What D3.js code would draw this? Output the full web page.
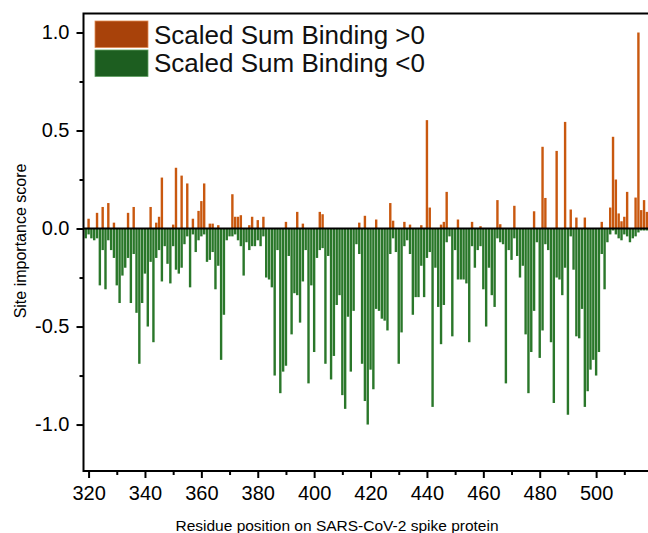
<!DOCTYPE html>
<html>
<head>
<meta charset="utf-8">
<script src="https://cdn.jsdelivr.net/npm/d3@7"></script>
<style>
  body { margin: 0; background: #fff; }
  svg { display: block; font-family: "Liberation Sans", Arial, sans-serif; }
</style>
</head>
<body>
<div id="chart"></div>
<script>
// DATA
// first residue of the negative series (one value per residue after that)
const firstResidue = 319

const negValues = [
  -0.05, -0.03, -0.05, -0.06, -0.05, -0.29, -0.11, -0.31, -0.06, -0.11,
  -0.15, -0.29, -0.38, -0.24, -0.20, -0.15, -0.38, -0.13, -0.43, -0.69,
  -0.38, -0.23, -0.50, -0.17, -0.58, -0.15, -0.11, -0.27, -0.09, -0.18,
  -0.28, -0.09, -0.21, -0.23, -0.20, -0.08, -0.04, -0.30, -0.03, -0.12,
  -0.06, -0.04, -0.03, -0.17, -0.16, -0.12, -0.31, -0.19, -0.67, -0.44,
  -0.06, -0.04, -0.04, -0.03, -0.06, -0.09, -0.24, -0.07, -0.11, -0.09,
  -0.09, -0.06, -0.09, -0.04, -0.25, -0.26, -0.30, -0.75, -0.11, -0.84,
  -0.73, -0.70, -0.14, -0.54, -0.33, -0.34, -0.48, -0.27, -0.11, -0.79,
  -0.29, -0.63, -0.15, -0.11, -0.10, -0.69, -0.14, -0.77, -0.65, -0.39,
  -0.34, -0.85, -0.92, -0.45, -0.73, -0.42, -0.08, -0.13, -0.69, -0.88,
  -1.00, -0.72, -0.82, -0.41, -0.42, -0.46, -0.47, -0.52, -0.13, -0.05,
  -0.12, -0.69, -0.53, -0.09, -0.06, -0.13, -0.44, -0.35, -0.35, -0.19,
  -0.35, -0.15, -0.12, -0.91, -0.20, -0.40, -0.59, -0.39, -0.07, -0.04,
  -0.55, -0.11, -0.26, -0.26, -0.26, -0.28, -0.58, -0.09, -0.20, -0.11,
  -0.09, -0.31, -0.50, -0.20, -0.34, -0.40, -0.05, -0.07, -0.08, -0.79,
  -0.11, -0.16, -0.05, -0.14, -0.25, -0.19, -0.54, -0.84, -0.63, -0.42,
  -0.07, -0.66, -0.52, -0.08, -0.11, -0.58, -0.89, -0.25, -0.26, -0.34,
  -0.20, -0.95, -0.04, -0.21, -0.55, -0.56, -0.41, -0.91, -0.83, -0.72,
  -0.67, -0.75, -0.63, -0.13, -0.31, -0.07, -0.03, -0.01, -0.03, -0.05,
  -0.06, -0.03, -0.04, -0.07, -0.05, -0.04, -0.02, -0.01, -0.01, -0.01
]

// positive scores only exist at some residues
const posResidues = [
  320, 323, 325, 327, 329, 334, 336, 342, 344, 345, 346, 350, 351, 353, 355,
  357, 359, 360, 361, 363, 364, 366, 371, 372, 373, 374, 377, 378, 380, 382,
  390, 394, 396, 402, 403, 416, 418, 422, 427, 428, 432, 434, 438, 440, 441,
  445, 446, 447, 451, 456, 459, 465, 466, 471, 478, 481, 482, 486, 489, 491,
  493, 496, 502, 505, 506, 507, 508, 509, 510, 511, 514, 515, 516, 517, 518
]
const posValues = [
  0.05, 0.08, 0.11, 0.13, 0.03, 0.08, 0.11, 0.11, 0.03, 0.06, 0.26, 0.02, 0.31, 0.27, 0.23,
  0.05, 0.09, 0.14, 0.23, 0.025, 0.025, 0.017, 0.175, 0.06, 0.06, 0.068, 0.017, 0.06, 0.043, 0.06,
  0.034, 0.085, 0.025, 0.085, 0.073, 0.03, 0.065, 0.046, 0.13, 0.04, 0.034, 0.02, 0.017, 0.553, 0.107,
  0.02, 0.034, 0.187, 0.046, 0.034, 0.012, 0.145, 0.022, 0.116, 0.088, 0.417, 0.156, 0.396, 0.544, 0.097,
  0.056, 0.056, 0.034, 0.107, 0.468, 0.25, 0.077, 0.037, 0.06, 0.187, 0.158, 1.0, 0.094, 0.145, 0.085
]

const xMajorTicks = [320, 340, 360, 380, 400, 420, 440, 460, 480, 500]
const xMinorTicks = [330, 350, 370, 390, 410, 430, 450, 470, 490, 510]
const yMajorTicks = [-1.0, -0.5, 0.0, 0.5, 1.0]
const yMinorTicks = [-0.75, -0.25, 0.25, 0.75]

const legendLabels = ["Scaled Sum Binding >0", "Scaled Sum Binding <0"]

const width = 648
const height = 533
const orange = "#c9580f"
const green = "#2a772a"

const negData = negValues.map((v, i) => ({res: firstResidue + i, v: v}))
const posData = posResidues.map((r, i) => ({res: r, v: posValues[i]}))

// SCALES
const xScale = d3.scaleLinear()
  .domain([318.2, 518.4])
  .range([83.5, 648])

const yScale = d3.scaleLinear()
  .domain([-1.237, 1.097])
  .range([471, 13.5])

const barW = 2.4

const svg = d3.select("#chart")
  .append("svg")
  .attr("width", width)
  .attr("height", height)

// BARS
svg.append("g")
  .selectAll("rect")
  .data(negData)
  .join("rect")
    .attr("x", d => xScale(d.res) - barW / 2)
    .attr("y", yScale(0))
    .attr("width", barW)
    .attr("height", d => yScale(d.v) - yScale(0))
    .attr("fill", green)

svg.append("g")
  .selectAll("rect")
  .data(posData)
  .join("rect")
    .attr("x", d => xScale(d.res) - barW / 2)
    .attr("y", d => yScale(d.v))
    .attr("width", barW)
    .attr("height", d => yScale(0) - yScale(d.v))
    .attr("fill", orange)

// zero line
svg.append("line")
  .attr("x1", xScale.range()[0]).attr("x2", width)
  .attr("y1", yScale(0)).attr("y2", yScale(0))
  .attr("stroke", "#000")
  .attr("stroke-width", 2)

// AXES
const xAxis = svg.append("g")
  .attr("transform", `translate(0, ${yScale.range()[0]})`)
  .call(d3.axisBottom(xScale)
    .tickValues(xMajorTicks)
    .tickSize(7)
    .tickPadding(8)
    .tickFormat(d3.format("d")))
xAxis.select(".domain").remove()
xAxis.selectAll("text").attr("font-size", 20).attr("fill", "#000")
xAxis.selectAll(".tick line").attr("stroke-width", 2)

svg.append("g")
  .attr("transform", `translate(0, ${yScale.range()[0]})`)
  .call(d3.axisBottom(xScale).tickValues(xMinorTicks).tickSize(4).tickFormat(""))
  .call(g => g.select(".domain").remove())
  .selectAll(".tick line").attr("stroke-width", 2)

const yAxis = svg.append("g")
  .attr("transform", `translate(${xScale.range()[0]}, 0)`)
  .call(d3.axisLeft(yScale)
    .tickValues(yMajorTicks)
    .tickSize(7)
    .tickPadding(7)
    .tickFormat(d3.format(".1f")))
yAxis.select(".domain").remove()
yAxis.selectAll("text").attr("font-size", 20).attr("fill", "#000")
  .text(d => d3.format(".1f")(d).replace("−", "-"))
yAxis.selectAll(".tick line").attr("stroke-width", 2)

svg.append("g")
  .attr("transform", `translate(${xScale.range()[0]}, 0)`)
  .call(d3.axisLeft(yScale).tickValues(yMinorTicks).tickSize(4).tickFormat(""))
  .call(g => g.select(".domain").remove())
  .selectAll(".tick line").attr("stroke-width", 2)

// frame: left, bottom, top
svg.append("path")
  .attr("d", `M${width},${yScale.range()[1]} H${xScale.range()[0]} V${yScale.range()[0]} H${width}`)
  .attr("fill", "none")
  .attr("stroke", "#000")
  .attr("stroke-width", 2)

// AXIS TITLES
svg.append("text")
  .attr("x", 337)
  .attr("y", 531)
  .attr("text-anchor", "middle")
  .attr("font-size", 15.5)
  .text("Residue position on SARS-CoV-2 spike protein")

svg.append("text")
  .attr("transform", "translate(26, 241) rotate(-90)")
  .attr("text-anchor", "middle")
  .attr("font-size", 16)
  .text("Site importance score")

// LEGEND
const legendColors = ["#a8420a", "#1d5e20"]
const legend = svg.append("g")
legend.selectAll("rect")
  .data(legendLabels)
  .join("rect")
    .attr("x", 95)
    .attr("y", (d, i) => 21 + i * 29)
    .attr("width", 53)
    .attr("height", 26.5)
    .attr("fill", (d, i) => legendColors[i])
    .attr("stroke", (d, i) => i == 0 ? "#e08a50" : "#5fa060")
    .attr("stroke-width", 0.8)
legend.selectAll("text")
  .data(legendLabels)
  .join("text")
    .attr("x", 154)
    .attr("y", (d, i) => 43.5 + i * 28.5)
    .attr("font-size", 26)
    .attr("fill", "#111")
    .text(d => d)
</script>
</body>
</html>
